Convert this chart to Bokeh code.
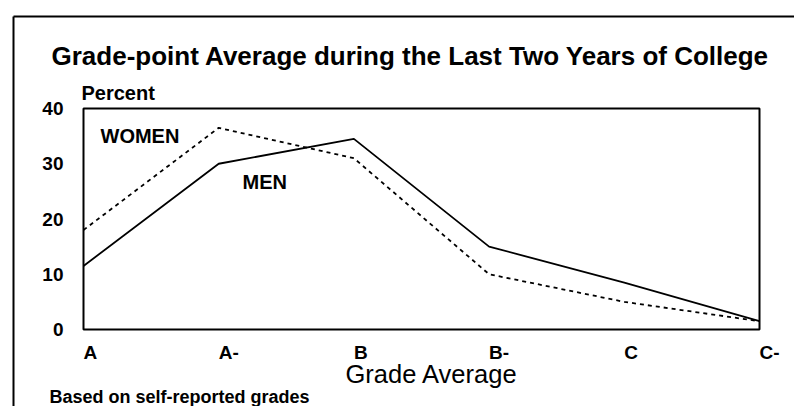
from bokeh.plotting import figure
from bokeh.models import Range1d
from bokeh.core.properties import value
from bokeh.embed import file_html
from bokeh.resources import INLINE

grades = ["A", "A-", "B", "B-", "C", "C-"]
men = [11.5, 30, 34.5, 15, 8.5, 1.5]
women = [18, 36.5, 31, 10, 5, 1.5]
y_ticks = [0, 10, 20, 30, 40]

title_text = "Grade-point Average during the Last Two Years of College"
y_label = "Percent"
x_label = "Grade Average"
note = "Based on self-reported grades"
series_names = ["WOMEN", "MEN"]

FONT = "Liberation Sans"

W, H = 794, 406
# plot box position in page pixels
FL, FR, FT, FB = 83, 759, 108, 329
n = len(grades) - 1
ymax = y_ticks[-1]
sx = (FR - FL) / n        # px per x unit
sy = (FB - FT) / ymax     # px per y unit


def xd(px):
    return (px - FL) / sx


def yd(py):
    return (FB - py) / sy


p = figure(width=W, height=H, output_backend="svg", toolbar_location=None,
           x_range=Range1d(xd(0), xd(W)), y_range=Range1d(yd(H), yd(0)),
           x_axis_location=None, y_axis_location=None,
           min_border=0)
p.background_fill_color = "white"
p.border_fill_color = "white"
p.outline_line_color = None
p.grid.visible = False

# outer page frame (left and top rules)
p.multi_line(xs=[[xd(13), xd(13)], [xd(13), xd(W + 5)]],
             ys=[[yd(H + 5), yd(16)], [yd(16), yd(16)]],
             line_color="black", line_width=2)

# plot box
p.quad(left=0, right=n, bottom=0, top=ymax, fill_color=None,
       line_color="black", line_width=2)

xs = list(range(len(grades)))
p.line(xs, women, line_color="black", line_width=1.8, line_dash="4 4")
p.line(xs, men, line_color="black", line_width=1.8)


def txt(xv, yv, texts, size, bold=True, align="left"):
    p.text(x=xv, y=yv, text=texts, text_font=value(FONT),
           text_font_size=value(size),
           text_font_style="bold" if bold else "normal",
           text_align=align, text_baseline="middle", text_color="black")


# y tick labels
txt([xd(63)] * len(y_ticks), y_ticks, [str(t) for t in y_ticks], "19px", align="right")
# x tick labels
txt(xs, [yd(352)] * len(grades), grades, "19px")

txt([xd(410)], [yd(55)], [title_text], "26px", align="center")
txt([xd(81)], [yd(92)], [y_label], "20px")
txt([xd(100), xd(242)], [yd(135), yd(181)], series_names, "20px")
txt([xd(345)], [yd(373)], [x_label], "25.5px", bold=False)
txt([xd(49)], [yd(396)], [note], "18px")

open("out.html", "w").write(file_html(p, INLINE))
